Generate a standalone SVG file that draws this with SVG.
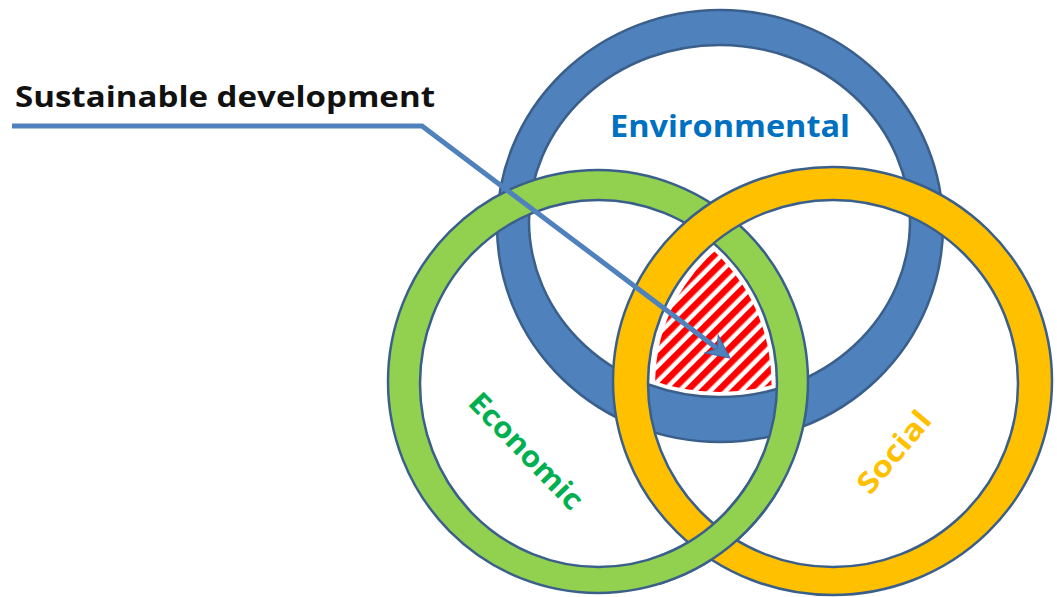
<svg xmlns="http://www.w3.org/2000/svg" width="1057" height="597" viewBox="0 0 1057 597">
<style>
.ring{stroke:#3A5F8B;stroke-width:2.5;fill-rule:evenodd}
.lbl{font-family:"Open Sans","Liberation Sans",sans-serif;font-weight:bold}
</style>
<defs>
<pattern id="hatch" patternUnits="userSpaceOnUse" width="11" height="11" patternTransform="rotate(45)">
<rect width="11" height="11" fill="#FFFFFF"/>
<rect width="6.5" height="11" fill="#FF0000"/>
</pattern>
<clipPath id="cb"><ellipse cx="719.5" cy="221" rx="186" ry="171"/></clipPath>
<clipPath id="cg"><ellipse cx="598.5" cy="383.5" rx="173" ry="178"/></clipPath>
<clipPath id="cy"><ellipse cx="833" cy="383.5" rx="178" ry="177"/></clipPath>
<clipPath id="cross"><rect x="660" y="470" width="120" height="127"/></clipPath>
<marker id="ah" markerUnits="userSpaceOnUse" markerWidth="40" markerHeight="40" viewBox="-25 -15 40 30" refX="0" refY="0" orient="auto">
<path d="M6,0 L-17,-11 L-10,0 L-17,11 Z" fill="#4F81BD" stroke="#3A6EA8" stroke-width="1"/>
</marker>
</defs>
<rect width="1057" height="597" fill="#FFFFFF"/>
<g id="environmental">
<path class="ring" fill="#4F81BD" d="M497,226 a223,216 0 1,0 446,0 a223,216 0 1,0 -446,0 Z M529,221 a190.5,176 0 1,0 381,0 a190.5,176 0 1,0 -381,0 Z"/>
<text class="lbl" x="610" y="137" font-size="30" fill="#0070C0" textLength="240" lengthAdjust="spacingAndGlyphs">Environmental</text>
</g>
<g id="economic">
<path class="ring" fill="#92D050" d="M388,381.5 a210,211.5 0 1,0 420,0 a210,211.5 0 1,0 -420,0 Z M420,383.5 a178.5,183.5 0 1,0 357,0 a178.5,183.5 0 1,0 -357,0 Z"/>
<text class="lbl" transform="translate(526,451) rotate(46)" x="0" y="10" text-anchor="middle" font-size="29" fill="#00B050" textLength="150" lengthAdjust="spacingAndGlyphs">Economic</text>
</g>
<g id="social">
<path class="ring" fill="#FFC000" d="M613,381 a219.5,214 0 1,0 439,0 a219.5,214 0 1,0 -439,0 Z M648,383.5 a185,183.5 0 1,0 370,0 a185,183.5 0 1,0 -370,0 Z"/>
<text class="lbl" transform="translate(894,452) rotate(-50)" x="0" y="10" text-anchor="middle" font-size="29" fill="#FFC000" textLength="98" lengthAdjust="spacingAndGlyphs">Social</text>
</g>
<g id="economic-overlap" clip-path="url(#cross)">
<path class="ring" fill="#92D050" d="M388,381.5 a210,211.5 0 1,0 420,0 a210,211.5 0 1,0 -420,0 Z M420,383.5 a178.5,183.5 0 1,0 357,0 a178.5,183.5 0 1,0 -357,0 Z"/>
</g>
<g id="sustainable-core" clip-path="url(#cb)">
<g clip-path="url(#cg)">
<rect x="600" y="200" width="250" height="250" fill="url(#hatch)" clip-path="url(#cy)"/>
</g>
</g>
<g id="sustainable-label">
<text class="lbl" x="15" y="107" font-size="29" fill="#111111" textLength="420" lengthAdjust="spacingAndGlyphs">Sustainable development</text>
</g>
<g id="connectors">
<polyline points="12,126 422,126 725.2,354.4" fill="none" stroke="#4F81BD" stroke-width="5" marker-end="url(#ah)"/>
</g>
</svg>
